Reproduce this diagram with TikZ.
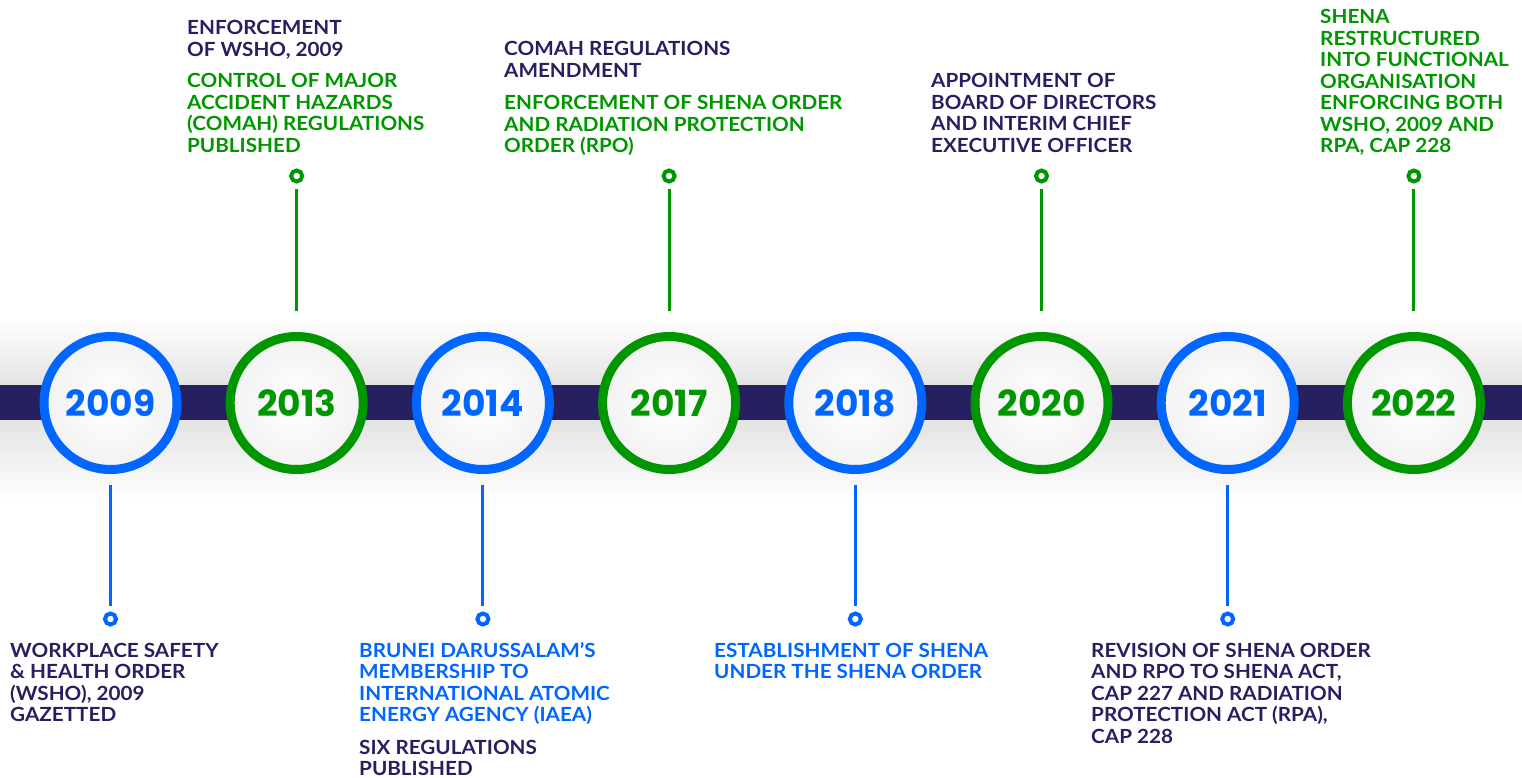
\documentclass[tikz,border=0pt]{standalone}
\usepackage{fontspec}
\setmainfont{Lato}[FakeStretch=1.06]
\newfontfamily\yearfont{Poppins}
\usetikzlibrary{positioning}
\definecolor{tlblue}{HTML}{0066FF}
\definecolor{tlgreen}{HTML}{009600}
\definecolor{tlnavy}{HTML}{262060}

\begin{document}
\begin{tikzpicture}[x=1pt,y=-1pt,
	yearring/.style={circle,draw=#1,line width=9pt,minimum size=133pt,inner color=white,outer color=black!5,text=#1,font=\yearfont\bfseries\fontsize{36}{36}\selectfont},
	tldot/.style={circle,draw=#1,line width=4pt,fill=white,minimum size=11pt,inner sep=0pt},
	conn/.style={draw=#1,line width=3pt},
	evtext/.style={anchor=base west,align=left,inner sep=0pt,text=#1,font=\bfseries\fontsize{19.5}{21.5}\selectfont}]
	  \useasboundingbox (0,0) rectangle (1522,778);
	
	  % shadow and band of the time line
	  \shade[top color=white,bottom color=black!11] (0,318) rectangle (1522,385);
	  \shade[top color=black!11,bottom color=white] (0,420) rectangle (1522,500);
	  \fill[tlnavy] (0,385) rectangle (1522,420);
	
	  % year rings
	  \foreach \yr/\col [count=\i from 0] in {2009/tlblue,2013/tlgreen,2014/tlblue,2017/tlgreen,2018/tlblue,2020/tlgreen,2021/tlblue,2022/tlgreen}
	  \node[yearring=\col] (y\yr) at (110.5+186.2*\i,403) {\yr};
	
	  % upper pins
	  \foreach \yr in {2013,2017,2020,2022}
	  {\path (y\yr.center) ++(0,-227) node[tldot=tlgreen] (d\yr) {};
	  \draw[conn=tlgreen,shorten <=6pt,shorten >=21pt] (d\yr) -- (y\yr);}
	
	  % lower pins
	  \foreach \yr in {2009,2014,2018,2021}
	  {\path (y\yr.center) ++(0,216) node[tldot=tlblue] (d\yr) {};
	  \draw[conn=tlblue,shorten <=11pt,shorten >=6pt] (y\yr) -- (d\yr);}
	
	  % event texts (placed by the baseline of their last line)
	  \node[evtext=tlnavy] (t2009) at (10,721.5) {WORKPLACE SAFETY\\\& HEALTH ORDER\\(WSHO), 2009\\GAZETTED};
	  \node[evtext=tlnavy] (t2013a) at (187,56.5) {ENFORCEMENT\\OF WSHO, 2009};
	  \node[evtext=tlgreen] (t2013b) at (187,152.5) {CONTROL OF MAJOR\\ACCIDENT HAZARDS\\(COMAH) REGULATIONS\\PUBLISHED};
	  \node[evtext=tlblue] (t2014a) at (359,721.5) {BRUNEI DARUSSALAM’S\\MEMBERSHIP TO\\INTERNATIONAL ATOMIC\\ENERGY AGENCY (IAEA)};
	  \node[evtext=tlnavy] (t2014b) at (359,775.5) {SIX REGULATIONS\\PUBLISHED};
	  \node[evtext=tlnavy] (t2017a) at (504,77.5) {COMAH REGULATIONS\\AMENDMENT};
	  \node[evtext=tlgreen] (t2017b) at (504,153) {ENFORCEMENT OF SHENA ORDER\\AND RADIATION PROTECTION\\ORDER (RPO)};
	  \node[evtext=tlblue] (t2018) at (714,678.5) {ESTABLISHMENT OF SHENA\\UNDER THE SHENA ORDER};
	  \node[evtext=tlnavy] (t2020) at (931,152.5) {APPOINTMENT OF\\BOARD OF DIRECTORS\\AND INTERIM CHIEF\\EXECUTIVE OFFICER};
	  \node[evtext=tlnavy] (t2021) at (1091,743) {REVISION OF SHENA ORDER\\AND RPO TO SHENA ACT,\\CAP 227 AND RADIATION\\PROTECTION ACT (RPA),\\CAP 228};
	  \node[evtext=tlgreen] (t2022) at (1320,153) {SHENA\\RESTRUCTURED\\INTO FUNCTIONAL\\ORGANISATION\\ENFORCING BOTH\\WSHO, 2009 AND\\RPA, CAP 228};
	
	\end{tikzpicture}
\end{document}
